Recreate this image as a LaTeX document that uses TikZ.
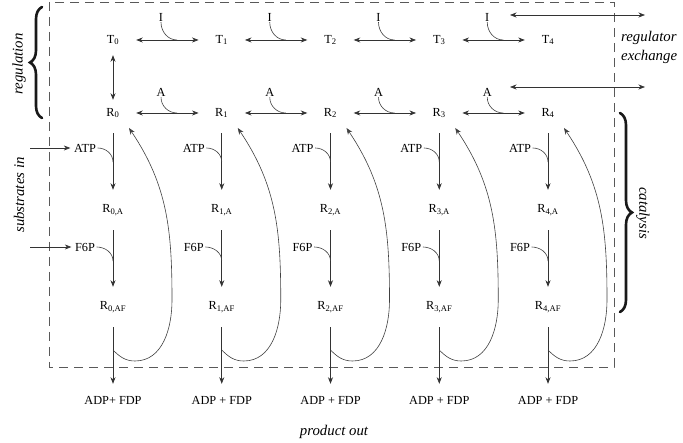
\documentclass[tikz,border=0pt]{standalone}
\usepackage{fontspec}
\setmainfont{Liberation Serif}
\usetikzlibrary{arrows.meta,calc,decorations.pathreplacing}
\begin{document}
\begin{tikzpicture}[x=1pt,y=1pt,
  lbl/.style={font=\fontsize{12.3}{14}\selectfont, inner sep=1.5pt},
  col/.style={lbl, minimum width=46pt, minimum height=40pt, inner sep=0pt},
  prod/.style={lbl, minimum height=32pt, inner sep=0pt},
  big/.style={font=\fontsize{14.8}{19}\selectfont\itshape, inner sep=0pt},
  tip/.style={Stealth[length=6.5pt,width=5pt,inset=2pt]},
  arr/.style={line width=0.7pt, draw=black!80, -{Stealth[length=6.5pt,width=5pt,inset=2pt]}},
  darr/.style={line width=0.7pt, draw=black!80, {Stealth[length=6.5pt,width=5pt,inset=2pt]}-{Stealth[length=6.5pt,width=5pt,inset=2pt]}},
  feed/.style={line width=0.6pt, draw=black!75},
  bracestyle/.style={decorate, decoration={brace, amplitude=12pt}, line width=2.6pt, line cap=round, draw=black!90},
  box/.style={draw=black!65, line width=0.8pt, dash pattern=on 9pt off 6pt}
]
\useasboundingbox (0,0) rectangle (683,-443);

% dashed system border
\draw[box] (49,-2) rectangle (614,-367);

% columns
\foreach \i in {0,...,4} {
  \pgfmathsetmacro\xx{113+108.75*\i}
  \node[col] (T\i) at (\xx,-40) {T\textsubscript{\i}};
  \node[col] (R\i) at (\xx,-113) {R\textsubscript{\i}};
  \node[col] (RA\i) at (\xx,-210) {R\textsubscript{\i,A}};
  \node[col] (RAF\i) at (\xx,-307) {R\textsubscript{\i,AF}};
  \node[lbl] (ATP\i) at (\xx-28,-148) {ATP};
  \node[lbl] (F\i) at (\xx-28,-247) {F6P};
}
\node[prod] (P0) at (113,-400) {ADP+ FDP};
\foreach \i in {1,...,4} {
  \pgfmathsetmacro\xx{113+108.75*\i}
  \node[prod] (P\i) at (\xx,-400) {ADP + FDP};
}

% regulation arrows and effectors
\foreach \i in {0,...,3} {
  \pgfmathtruncatemacro\j{\i+1}
  \pgfmathsetmacro\xx{113+108.75*\i}
  \draw[darr] (T\i) -- (T\j);
  \draw[darr] (R\i) -- (R\j);
  \node[lbl, inner sep=1pt] (I\i) at (\xx+48,-17) {I};
  \node[lbl, inner sep=1pt] (A\i) at (\xx+48,-92) {A};
  \draw[feed] (I\i.south) to[out=-90,in=180] ($(T\i)+(64,0)$);
  \draw[feed] (A\i.south) to[out=-90,in=180] ($(R\i)+(64,0)$);
}
\draw[darr, shorten <=-5pt, shorten >=-7pt] (T0) -- (R0);

% catalysis steps
\foreach \i in {0,...,4} {
  \draw[arr] (R\i) -- (RA\i);
  \draw[arr] (RA\i) -- (RAF\i);
  \draw[arr] (RAF\i) -- (P\i);
  \draw[feed] (ATP\i.east) to[out=0,in=90] ($(R\i)+(0,-49)$);
  \draw[feed] (F\i.east) to[out=0,in=90] ($(RA\i)+(0,-51)$);
  \draw[feed, -{Stealth[length=6.5pt,width=5pt,inset=2pt]}]
    ($(RAF\i)+(0,-43)$) to[out=-45,in=180] ($(RAF\i)+(22,-54)$)
    to[out=0,in=-90] ($(RAF\i)+(59,7)$)
    to[out=90,in=-56] ($(R\i)+(16,-15)$);
}

% substrates in
\coordinate (s1) at (30,-148);
\coordinate (s2) at (30,-247);
\draw[arr, shorten >=2pt] (s1) -- (ATP0.west);
\draw[arr, shorten >=2pt] (s2) -- (F0.west);

% regulator exchange
\coordinate (e1a) at (510,-15);
\coordinate (e1b) at (645,-15);
\coordinate (e2a) at (510,-87);
\coordinate (e2b) at (645,-87);
\draw[darr] (e1a) -- (e1b);
\draw[darr] (e2a) -- (e2b);

% braces
\draw[bracestyle] (42,-118) -- (42,-7);
\draw[bracestyle] (620,-113) -- (620,-312);

% side labels
\node[big, rotate=90] (reg) at (19,-64) {regulation};
\node[big, rotate=90] (sub) at (19,-195) {substrates in};
\node[big, rotate=-90] (cat) at (643,-213) {catalysis};
\node[big, anchor=west, align=left] (rx) at (621,-47) {regulator\\exchange};
\node[big] (po) at (334,-432) {product out};
\end{tikzpicture}
\end{document}
